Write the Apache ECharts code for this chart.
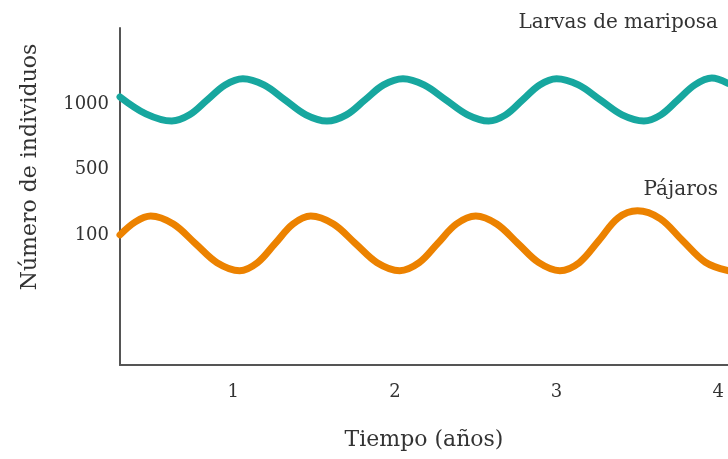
<!DOCTYPE html>
<html>
<head>
<meta charset="utf-8">
<script src="https://cdn.jsdelivr.net/npm/echarts@6/dist/echarts.min.js"></script>
<style>
  html, body { margin: 0; padding: 0; background: #fff; }
  #chart { width: 728px; height: 459px; }
</style>
</head>
<body>
<div id="chart"></div>
<script>
// tiempo (años) y nivel en el eje vertical (posición de la escala, no lineal)
var larvasYears  = [0.30, 0.46, 0.62, 0.73, 0.84, 0.95, 1.06, 1.19, 1.32, 1.45, 1.58, 1.70, 1.815, 1.93, 2.05, 2.18, 2.315, 2.45,
                    2.58, 2.685, 2.79, 2.895, 3.00, 3.135, 3.27, 3.405, 3.54, 3.645, 3.75, 3.855, 3.96, 4.06];
var larvasLevels = [4.12, 3.86, 3.75, 3.845, 4.075, 4.305, 4.40, 4.305, 4.075, 3.845, 3.75, 3.845, 4.075, 4.305, 4.40, 4.305, 4.075, 3.845,
                    3.75, 3.845, 4.075, 4.305, 4.40, 4.305, 4.075, 3.845, 3.75, 3.845, 4.075, 4.305, 4.41, 4.33];

var pajarosYears  = [0.30, 0.395, 0.49, 0.63, 0.765, 0.90, 1.04, 1.15, 1.26, 1.37, 1.48, 1.62, 1.755, 1.89, 2.03, 2.15, 2.265, 2.38,
                     2.50, 2.63, 2.76, 2.89, 3.02, 3.14, 3.26, 3.38, 3.50, 3.64, 3.78, 3.92, 4.06];
var pajarosLevels = [2.00, 2.20, 2.29, 2.167, 1.87, 1.573, 1.45, 1.573, 1.87, 2.167, 2.29, 2.167, 1.87, 1.573, 1.45, 1.573, 1.87, 2.167,
                     2.29, 2.167, 1.87, 1.573, 1.45, 1.573, 1.91, 2.26, 2.37, 2.25, 1.91, 1.58, 1.45];

var xTicks = [1, 2, 3, 4];
var yTicks = [2, 3, 4];
var yTickLabels = ['100', '500', '1000'];

var FONT = '"DejaVu Serif", serif';

function pairs(xs, ys) {
    var out = [];
    for (var i = 0; i < xs.length; i++) out.push([xs[i], ys[i]]);
    return out;
}

var chart = echarts.init(document.getElementById('chart'));
chart.setOption({
    animation: false,
    grid: { left: 120, right: 0, top: 28, bottom: 94 },
    xAxis: {
        type: 'value',
        min: 0.30,
        max: 4.06,
        name: 'Tiempo (años)',
        nameLocation: 'middle',
        nameGap: 64,
        nameTextStyle: { fontFamily: FONT, fontSize: 22, color: '#333' },
        axisLine: { show: true, lineStyle: { color: '#555', width: 2 } },
        axisTick: { show: false },
        splitLine: { show: false },
        axisLabel: {
            customValues: xTicks,
            margin: 18,
            fontFamily: FONT,
            fontSize: 18,
            color: '#333'
        }
    },
    yAxis: {
        type: 'value',
        min: 0,
        max: 5.18,
        axisLine: { show: true, lineStyle: { color: '#555', width: 2 } },
        axisTick: { show: false },
        splitLine: { show: false },
        axisLabel: {
            customValues: yTicks,
            margin: 11,
            fontFamily: FONT,
            fontSize: 18,
            color: '#333',
            formatter: function (v) {
                var i = yTicks.indexOf(v);
                return i >= 0 ? yTickLabels[i] : '';
            }
        }
    },
    graphic: [
        { type: 'text', x: 30, y: 167, rotation: Math.PI / 2,
          style: { text: 'Número de individuos', font: '22px ' + FONT, fill: '#333', align: 'center', verticalAlign: 'middle' } },
        { type: 'text', right: 10, top: 13, style: { text: 'Larvas de mariposa', font: '20px ' + FONT, fill: '#333' } },
        { type: 'text', right: 10, top: 180, style: { text: 'Pájaros', font: '20px ' + FONT, fill: '#333' } }
    ],
    series: [
        {
            name: 'Larvas de mariposa',
            type: 'line',
            smooth: 0.35,
            showSymbol: false,
            lineStyle: { color: '#17a79f', width: 7, cap: 'round' },
            data: pairs(larvasYears, larvasLevels)
        },
        {
            name: 'Pájaros',
            type: 'line',
            smooth: 0.35,
            showSymbol: false,
            lineStyle: { color: '#ec8200', width: 7, cap: 'round' },
            data: pairs(pajarosYears, pajarosLevels)
        }
    ]
});
</script>
</body>
</html>
